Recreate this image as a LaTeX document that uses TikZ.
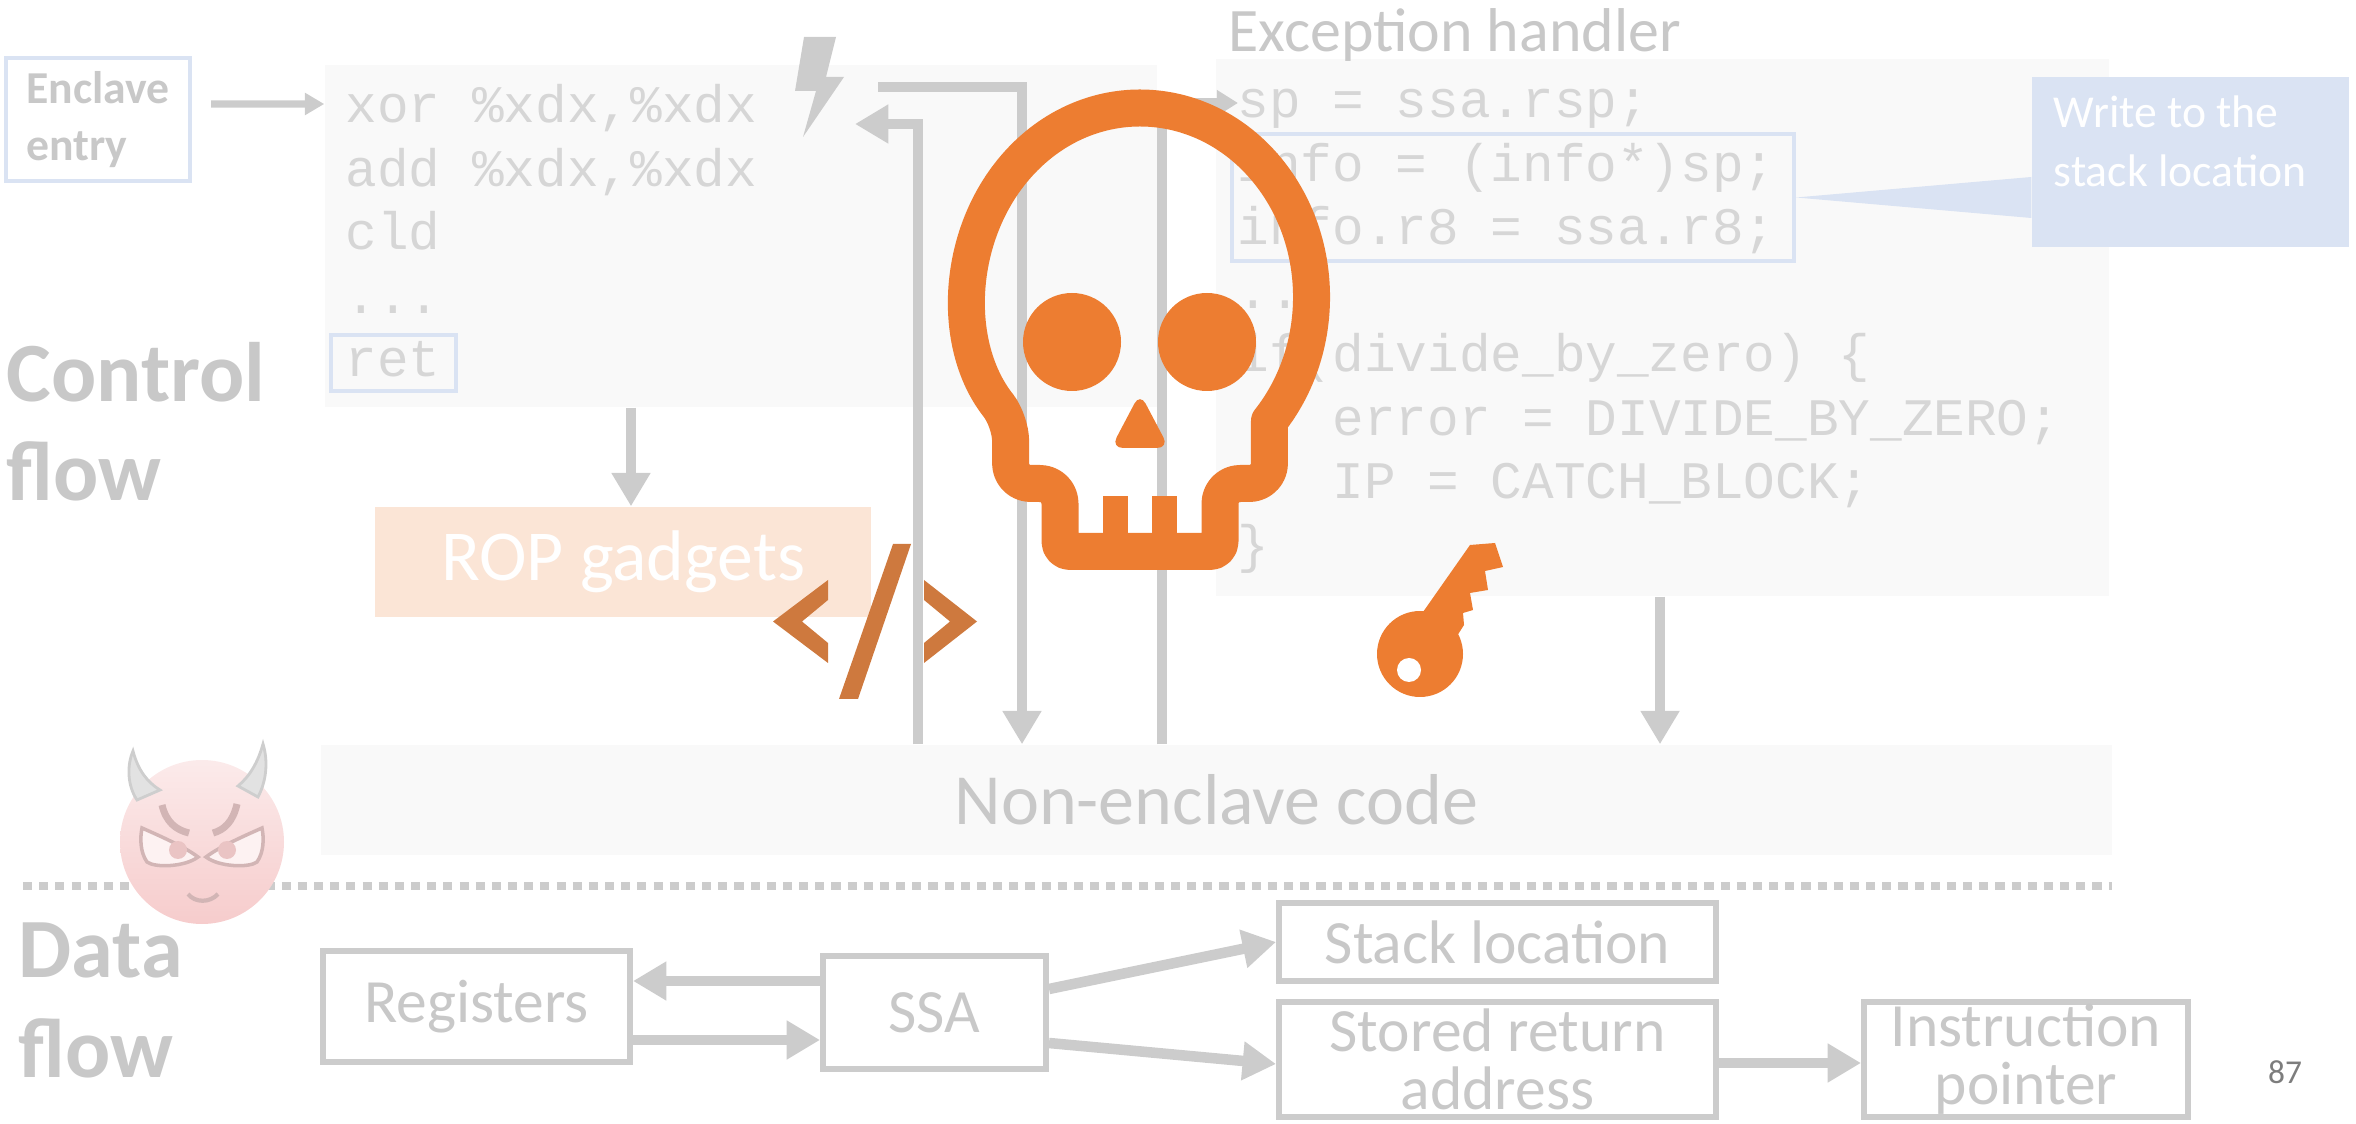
\documentclass[tikz,border=0pt]{standalone}
\usepackage{fontspec}
\setmainfont{Carlito}
\setmonofont{Liberation Mono}
\usetikzlibrary{arrows.meta}

\definecolor{linegray}{RGB}{204,204,204}
\definecolor{labelgray}{RGB}{200,200,200}
\definecolor{codegray}{RGB}{214,214,214}
\definecolor{panel}{RGB}{249,249,249}
\definecolor{hiblue}{RGB}{218,227,243}
\definecolor{peach}{RGB}{251,229,214}
\definecolor{skullorange}{RGB}{237,125,49}
\definecolor{tagorange}{RGB}{206,121,62}
\definecolor{devilpink}{RGB}{246,204,204}
\definecolor{horngray}{RGB}{206,206,206}
\definecolor{pagegray}{RGB}{125,125,125}

\tikzset{
  flow/.style={draw=linegray, line width=3pt, -{Triangle[length=9.5pt,width=10.5pt]}},
  panelbox/.style={fill=panel, inner sep=0pt},
  codeline/.style={anchor=base west, inner sep=0pt, text=codegray, font=\ttfamily\fontsize{15}{18}\selectfont},
  biglabel/.style={anchor=base west, inner sep=0pt, text=labelgray, font=\bfseries\fontsize{24}{29}\selectfont},
  hilite/.style={draw=hiblue, line width=1.2pt, inner sep=0pt},
  datbox/.style={draw=linegray, line width=1.7pt, fill=white, inner sep=0pt, align=center, text=labelgray, font=\fontsize{17.5}{16.5}\selectfont},
  skullline/.style={draw=skullorange, line width=0.37cm, line join=round}
}

\begin{document}
\begin{tikzpicture}

    \useasboundingbox (0,0) rectangle (23.56,-11.24);

    % Code panels
    \node[panelbox, minimum width=8.32cm, minimum height=3.42cm] (enclcode) at (7.41,-2.36) {};
    \node[panelbox, minimum width=8.93cm, minimum height=5.37cm] (handler) at (16.625,-3.275) {};
    \node[panelbox, minimum width=17.91cm, minimum height=1.10cm, text=labelgray, font=\fontsize{20.5}{24}\selectfont] (nonencl) at (12.165,-8.00) {Non-enclave code};
    \node[fill=peach, inner sep=0pt, minimum width=4.96cm, minimum height=1.10cm, text=white, font=\fontsize{20.4}{24}\selectfont] (rop) at (6.23,-5.62) {ROP gadgets};

    % Enclave entry code
    \node[codeline] (xor) at (3.45,-1.23) {xor \%xdx,\%xdx};
    \node[codeline] (add) at (3.45,-1.865) {add \%xdx,\%xdx};
    \node[codeline] (cld) at (3.45,-2.50) {cld};
    \node[codeline] (edots) at (3.45,-3.135) {...};
    \node[codeline] (ret) at (3.45,-3.77) {ret};

    % Exception handler code
    \node[codeline] (hsp) at (12.37,-1.18) {sp = ssa.rsp;};
    \node[codeline] (hinfo) at (12.37,-1.815) {info = (info*)sp;};
    \node[codeline] (hr8) at (12.37,-2.45) {info.r8 = ssa.r8;};
    \node[codeline] (hdots) at (12.37,-3.085) {...};
    \node[codeline] (hif) at (12.37,-3.72) {if(divide\_by\_zero) \{};
    \node[codeline] (herr) at (13.32,-4.355) {error = DIVIDE\_BY\_ZERO;};
    \node[codeline] (hip) at (13.32,-4.99) {IP = CATCH\_BLOCK;};
    \node[codeline] (hend) at (12.37,-5.625) {\}};

    % Highlights and note
    \node[hilite, minimum width=1.25cm, minimum height=0.56cm] (retbox) at (3.935,-3.63) {};
    \node[hilite, minimum width=5.62cm, minimum height=1.27cm] (hbox) at (15.13,-1.975) {};
    \node[fill=hiblue, inner sep=0pt, minimum width=3.17cm, minimum height=1.70cm] (note) at (21.905,-1.62) {};
    \fill[hiblue] ([yshift=-1.5mm]note.west) -- (hbox.east) -- ([yshift=-5.6mm]note.west) -- cycle;
    \node[anchor=base west, inner sep=0pt, text=white, font=\fontsize{13}{16}\selectfont] (note1) at (20.53,-1.28) {Write to the};
    \node[anchor=base west, inner sep=0pt, text=white, font=\fontsize{13}{16}\selectfont] (note2) at (20.53,-1.87) {stack location};

    % Labels
    \node[draw=hiblue, line width=1.2pt, minimum width=1.84cm, minimum height=1.23cm, align=left, text=labelgray, font=\bfseries\fontsize{13}{16}\selectfont] (entry) at (0.98,-1.195) {Enclave\\entry};
    \node[anchor=base west, inner sep=0pt, text=labelgray, font=\fontsize{17.6}{21}\selectfont] (htitle) at (12.28,-0.52) {Exception handler};
    \node[biglabel] (ctrl) at (0.06,-4.02) {Control};
    \node[biglabel] (ctrlflow) at (0.06,-5.01) {flow};
    \node[biglabel] (data) at (0.18,-9.77) {Data};
    \node[biglabel] (dataflow) at (0.18,-10.77) {flow};

    % Control transfers
    \coordinate (fault) at (8.78,-0.87);
    \coordinate (resume) at (8.55,-1.24);
    \coordinate (handlerentry) at (12.38,-1.03);
    \draw[draw=linegray, line width=2pt, -{Triangle[length=5.5pt,width=6pt]}] ([shift={(0.19,0.155)}]entry.east) -- (enclcode.west |- 0,-1.04);
    \draw[flow] (6.31,0 |- enclcode.south) -- (6.31,0 |- rop.north);
    \draw[flow] (fault) -| (10.22,0 |- nonencl.north);
    \draw[flow] (9.18,0 |- nonencl.north) |- (resume);
    \draw[flow, -{Triangle[length=6pt,width=7pt]}] (11.62,0 |- nonencl.north) |- (handlerentry);
    \draw[flow] (16.60,0 |- handler.south) -- (16.60,0 |- nonencl.north);

    % Fault bolt
    \fill[linegray] (8.04,-0.37) -- (8.36,-0.37) -- (8.26,-0.77) -- (8.44,-0.77) -- (8.03,-1.37) -- (8.16,-0.91) -- (7.95,-0.91) -- cycle;

    % Code tag
    \fill[tagorange] (8.28,-5.80) -- (8.28,-6.00) -- (8.02,-6.215) -- (8.28,-6.43) -- (8.28,-6.63) -- (7.73,-6.215) -- cycle;
    \fill[tagorange] (8.39,-6.99) -- (8.58,-6.99) -- (9.11,-5.44) -- (8.93,-5.44) -- cycle;
    \fill[tagorange] (9.24,-5.80) -- (9.77,-6.215) -- (9.24,-6.63) -- (9.24,-6.43) -- (9.50,-6.215) -- (9.24,-6.00) -- cycle;

    % Skull
    \draw[skullline] (10.106,-4.21) arc[start angle=221, end angle=-41, x radius=1.715, y radius=1.89]
        [rounded corners=2mm] -- (12.694,-4.835) -- (12.20,-4.835)
        [rounded corners=1mm] -- (12.20,-5.515) -- (10.60,-5.515)
        [rounded corners=2mm] -- (10.60,-4.835) -- (10.106,-4.835) -- cycle;
    \fill[skullorange] (11.03,-4.96) rectangle (11.28,-5.36);
    \fill[skullorange] (11.52,-4.96) rectangle (11.77,-5.36);
    \fill[skullorange] (10.72,-3.42) circle[radius=0.49];
    \fill[skullorange] (12.07,-3.42) circle[radius=0.49];
    \fill[skullorange, rounded corners=1.2mm] (11.40,-3.93) -- (11.69,-4.48) -- (11.11,-4.48) -- cycle;

    % Key
    \fill[skullorange] (14.23,-6.12) -- (14.70,-5.45) -- (14.95,-5.43) -- (15.03,-5.67) -- (14.85,-5.71) -- (14.88,-5.90) -- (14.70,-5.93) -- (14.73,-6.10) -- (14.63,-6.13) -- (14.64,-6.25) -- (14.57,-6.36) -- (14.20,-6.54) -- cycle;
    \fill[skullorange] (14.20,-6.54) circle[radius=0.43];
    \fill[white] (14.09,-6.70) circle[radius=0.12];

    % Separator
    \draw[linegray, line width=2.3pt, dash pattern=on 2.6pt off 2pt] (0.23,-8.86) -- (21.12,-8.86);

    % Devil
    \shade[top color=devilpink!40, bottom color=devilpink] (2.02,-8.42) circle[radius=0.82];
    \filldraw[fill=horngray!60, draw=horngray, line width=0.8pt] (1.37,-8.00) .. controls (1.27,-7.85) and (1.27,-7.65) .. (1.33,-7.51) .. controls (1.38,-7.70) and (1.47,-7.82) .. (1.60,-7.90) -- cycle;
    \filldraw[fill=horngray!60, draw=horngray, line width=0.8pt] (2.58,-7.97) .. controls (2.67,-7.80) and (2.68,-7.60) .. (2.63,-7.44) .. controls (2.58,-7.62) and (2.50,-7.76) .. (2.38,-7.86) -- cycle;
    \draw[devilpink!70!gray, line width=2pt] (1.62,-8.05) .. controls (1.66,-8.22) and (1.76,-8.30) .. (1.89,-8.33);
    \draw[devilpink!70!gray, line width=2pt] (2.37,-8.04) .. controls (2.33,-8.22) and (2.24,-8.30) .. (2.13,-8.33);
    \filldraw[fill=devilpink!25, draw=devilpink!70!gray, line width=1pt] (1.42,-8.28) .. controls (1.60,-8.36) and (1.85,-8.47) .. (1.98,-8.57) .. controls (1.85,-8.67) and (1.55,-8.68) .. (1.47,-8.62) .. controls (1.40,-8.52) and (1.40,-8.38) .. cycle;
    \filldraw[fill=devilpink!25, draw=devilpink!70!gray, line width=1pt] (2.62,-8.28) .. controls (2.44,-8.36) and (2.19,-8.47) .. (2.06,-8.57) .. controls (2.19,-8.67) and (2.49,-8.68) .. (2.57,-8.62) .. controls (2.64,-8.52) and (2.64,-8.38) .. cycle;
    \fill[devilpink!90!gray] (1.78,-8.50) circle[radius=0.09];
    \fill[devilpink!90!gray] (2.27,-8.50) circle[radius=0.09];
    \draw[devilpink!70!gray, line width=1.2pt] (1.88,-8.94) .. controls (1.95,-9.03) and (2.10,-9.03) .. (2.18,-8.94);

    % Data flow boxes
    \node[datbox, minimum width=3.07cm, minimum height=1.11cm] (regs) at (4.765,-10.065) {Registers};
    \node[datbox, minimum width=2.23cm, minimum height=1.13cm] (ssa) at (9.345,-10.125) {SSA};
    \node[datbox, minimum width=4.37cm, minimum height=0.78cm] (stackloc) at (14.975,-9.42) {Stack location};
    \node[datbox, minimum width=4.37cm, minimum height=1.15cm] (retaddr) at (14.975,-10.595) {Stored return\\address};
    \node[datbox, minimum width=3.24cm, minimum height=1.15cm] (ip) at (20.26,-10.595) {Instruction\\pointer};

    % Data flow arrows
    \draw[flow] (ssa.west |- 0,-9.81) -- (regs.east |- 0,-9.81);
    \draw[flow] (regs.east |- 0,-10.40) -- (ssa.west |- 0,-10.40);
    \draw[flow] (ssa.east |- 0,-9.89) -- (stackloc.west);
    \draw[flow] (ssa.east |- 0,-10.43) -- (retaddr.west |- 0,-10.64);
    \draw[flow] (retaddr.east |- 0,-10.63) -- (ip.west |- 0,-10.63);

    \node[text=pagegray, font=\fontsize{9.5}{11}\selectfont] (pagenum) at (22.85,-10.72) {87};

\end{tikzpicture}
\end{document}
